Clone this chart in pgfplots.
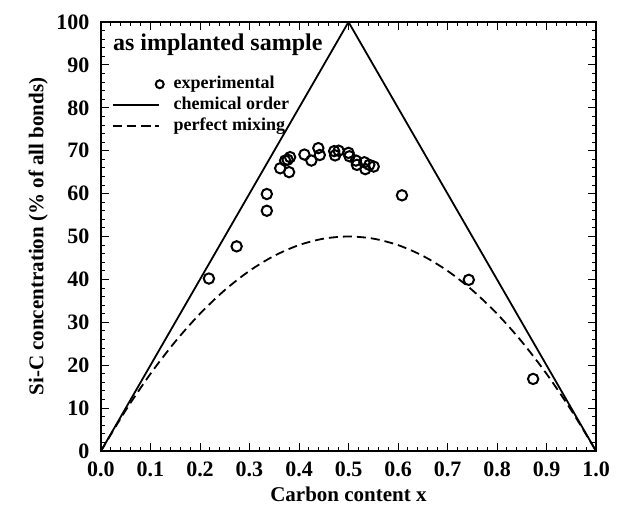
\documentclass[border=0pt]{standalone}
\usepackage{pgfplots}
\pgfplotsset{compat=1.18}
\usepackage{fontspec}
\setmainfont{Liberation Serif}
\begin{document}
\begin{tikzpicture}
\begin{axis}[
  name=main,
  scale only axis,
  width=495pt, height=429pt,
  xmin=0, xmax=1, ymin=0, ymax=100,
  xtick={0,0.1,...,1.0},
  ytick={0,10,...,100},
  minor x tick num=4,
  minor y tick num=4,
  tick align=inside,
  major tick length=8pt,
  minor tick length=4pt,
  axis line style={line width=1.3pt},
  every tick/.style={line width=0.9pt, black},
  /pgf/number format/assume math mode=true,
  xticklabel style={/pgf/number format/.cd, fixed, fixed zerofill, precision=1, /tikz/.cd, yshift=-7pt},
  yticklabel style={xshift=-8pt},
  ticklabel style={font=\fontsize{22}{26}\selectfont\bfseries},
  xlabel={Carbon content x},
  ylabel={Si-C concentration (\% of all bonds)},
  every axis x label/.style={at={(axis description cs:0.5,-0.102)}, anchor=center,
    font=\fontsize{21}{25}\selectfont\bfseries},
  every axis y label/.style={at={(axis description cs:-0.127,0.5)}, anchor=center, rotate=90,
    font=\fontsize{21}{25}\selectfont\bfseries},
  legend cell align=left,
  legend style={draw=none, fill=none, line width=1.8pt, at={(axis description cs:0.014,0.885)}, anchor=north west,
    font=\fontsize{18}{21}\selectfont\bfseries, row sep=1pt,
    nodes={inner sep=1pt, text height=13pt, text depth=5pt},
    /tikz/every odd column/.style={column sep=8pt}},
  legend image code/.code={\pgfsetlinewidth{1.8pt}\draw[line width=1.8pt, mark repeat=2, mark phase=2] plot coordinates {(0pt,0pt) (23pt,0pt) (46pt,0pt)};},
]
\addplot[only marks, mark=o, mark size=5.2pt, line width=2pt, black,
  legend image code/.code={\pgfsetlinewidth{2pt}\draw[line width=2pt] (47pt,0pt) circle[radius=4pt];}]
coordinates {
(0.218,40.2) (0.274,47.7) (0.335,59.9) (0.335,56.0) (0.362,65.9)
(0.372,67.7) (0.380,65.0) (0.382,68.5) (0.377,67.9) (0.411,69.1)
(0.425,67.7) (0.439,70.6) (0.442,69.0) (0.471,69.9) (0.473,68.9)
(0.480,70.0) (0.500,69.5) (0.502,68.7) (0.515,67.7) (0.517,66.7)
(0.532,67.3) (0.534,65.7) (0.542,66.7) (0.551,66.3) (0.608,59.6)
(0.743,39.9) (0.873,16.8)
};
\addlegendentry{experimental}
\addplot[line width=1.8pt, black]
coordinates {(0,0) (0.5,100) (1,0)};
\addlegendentry{chemical order}
\addplot[line width=1.8pt, black, dash pattern=on 9pt off 5pt, smooth]
coordinates {
(0.00,0) (0.05,9.5) (0.10,18) (0.15,25.5) (0.20,32) (0.25,37.5)
(0.30,42) (0.35,45.5) (0.40,48) (0.45,49.5) (0.50,50) (0.55,49.5)
(0.60,48) (0.65,45.5) (0.70,42) (0.75,37.5) (0.80,32) (0.85,25.5)
(0.90,18) (0.95,9.5) (1.00,0)
};
\addlegendentry{perfect mixing}
\node[anchor=north west, font=\fontsize{24}{28}\selectfont\bfseries, inner sep=0pt]
  at (axis description cs:0.024,0.972) {as implanted sample};
\end{axis}
\pgfresetboundingbox
\path (main.south west) ++(-101pt,-63pt) rectangle ([shift={(23pt,22pt)}]main.north east);
\end{tikzpicture}
\end{document}
